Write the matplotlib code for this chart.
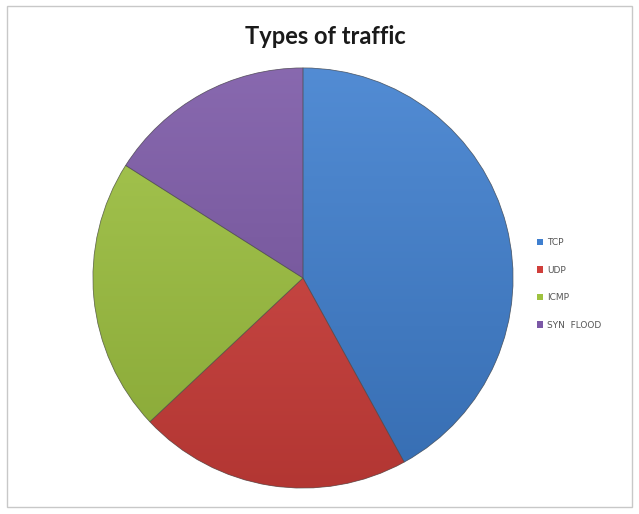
import matplotlib
matplotlib.use("Agg")
import matplotlib.pyplot as plt
import numpy as np
from matplotlib.patches import Patch, Rectangle, Wedge
from matplotlib.colors import to_rgb

categories = ["TCP", "UDP", "ICMP", "SYN  FLOOD"]
values = [42, 21, 21, 16]
colors = ["#3F7FCF", "#D03F3B", "#9EC23F", "#7B58A6"]
title = "Types of traffic"

W, H = 639, 514
fig = plt.figure(figsize=(W / 100, H / 100), dpi=100)
ax = fig.add_axes([0, 0, 1, 1])

cx, cy, r = 303, H - 278, 210

# chart border
ax.add_patch(Rectangle((7, 7), W - 14, H - 13, fill=False, edgecolor="#c8c8c8", linewidth=1.0))

wedges, _ = ax.pie(values, colors=colors, startangle=90, counterclock=False,
                   center=(cx, cy), radius=r, frame=True,
                   wedgeprops=dict(edgecolor=(0.35, 0.35, 0.35, 0.6), linewidth=0.6))

# subtle vertical gradient on each slice (lighter top, darker bottom)
t = np.linspace(0, 1, 256)[:, None]
for w, c in zip(wedges, colors):
    base = np.array(to_rgb(c))
    top = base + (1 - base) * 0.10
    bot = base * 0.86
    img = top[None, None, :] * (1 - t[:, :, None]) + bot[None, None, :] * t[:, :, None]
    im = ax.imshow(img, extent=(cx - r, cx + r, cy - r, cy + r), origin="upper",
                   aspect="auto", zorder=w.get_zorder() + 0.1, interpolation="bilinear")
    im.set_clip_path(w)

ax.set_xlim(0, W)
ax.set_ylim(0, H)
ax.set_aspect("equal")
ax.axis("off")

# slice edges on top
for w in wedges:
    ax.add_patch(Wedge(w.center, w.r, w.theta1, w.theta2, fill=False,
                       edgecolor=(0.3, 0.3, 0.3, 0.5), linewidth=0.6, zorder=5))

fig.text(325 / W, 1 - 36 / H, title, ha="center", va="center",
         fontsize=17, fontweight="bold", family="Lato", color="#1a1a1a")

handles = [Patch(facecolor=c, edgecolor="none") for c in colors]
leg = ax.legend(handles, categories, loc="upper left",
                bbox_to_anchor=(537 / W, 1 - 238 / H), frameon=False,
                fontsize=6.5, labelspacing=2.05, handlelength=0.7, handleheight=0.7,
                handletextpad=0.45, borderpad=0, borderaxespad=0)
for tx in leg.get_texts():
    tx.set_color("#555555")

fig.savefig("out.png", dpi=100)
